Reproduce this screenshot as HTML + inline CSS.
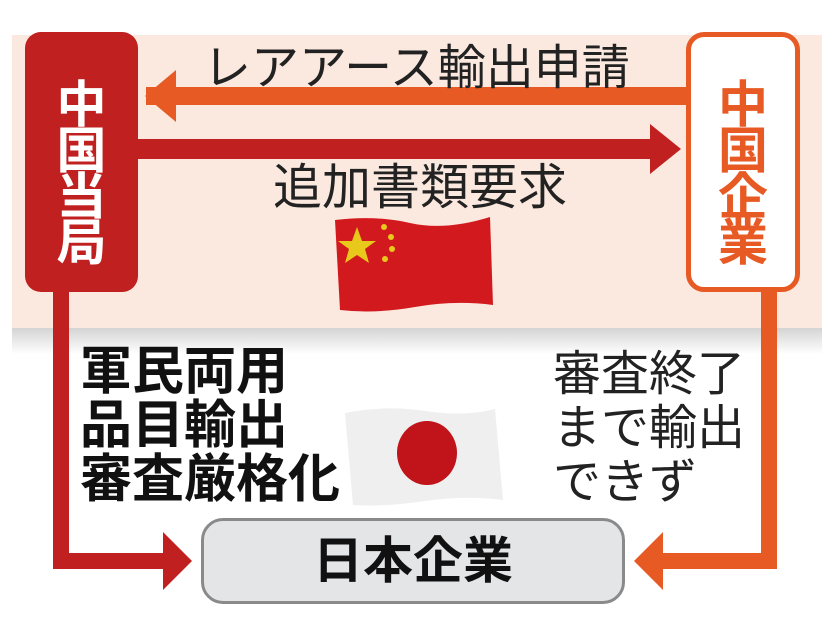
<!DOCTYPE html>
<html><head><meta charset="utf-8"><style>
body{margin:0;width:834px;height:628px;background:#fff;position:relative;overflow:hidden;font-family:"Liberation Sans","Noto Sans CJK JP",sans-serif}
.a{position:absolute}
</style></head><body>
<div class="a" style="left:12px;top:35px;width:810px;height:293px;background:#fbe9df"></div>
<div class="a" style="left:12px;top:328px;width:810px;height:26px;background:linear-gradient(#d4d4d4,#fff)"></div>
<svg class="a" style="left:0;top:0" width="834" height="628">
 <rect x="146" y="87" width="545" height="18" fill="#e85a24"/>
 <polygon points="145,96 176,70 176,122" fill="#e85a24"/>
 <rect x="130" y="139" width="522" height="20" fill="#c0201f"/>
 <polygon points="681,149 650,124 650,174" fill="#c0201f"/>
 <path d="M61,285 V561 H170" stroke="#c0201f" stroke-width="16" fill="none"/>
 <polygon points="192,561 163,532 163,590" fill="#c0201f"/>
 <path d="M769,285 V561 H660" stroke="#e85a24" stroke-width="16" fill="none"/>
 <polygon points="634,561 663,532 663,590" fill="#e85a24"/>
 <g transform="translate(335,215)">
  <path d="M0,5 Q40,0 75,8 T155,2 L158,90 Q120,85 80,92 T5,95 Z" fill="#d2191d"/>
  <polygon points="22,12 27,26 41,26 30,34 34,48 22,40 10,48 14,34 3,26 17,26" fill="#e8c81a"/>
  <circle cx="49" cy="12" r="3" fill="#e8c81a"/><circle cx="56" cy="22" r="3" fill="#e8c81a"/>
  <circle cx="57" cy="34" r="3" fill="#e8c81a"/><circle cx="50" cy="44" r="3" fill="#e8c81a"/>
 </g>
 <g transform="translate(345,405)">
  <path d="M0,8 Q40,0 80,6 T150,4 L158,95 Q120,90 80,96 T8,100 Z" fill="#efefef"/>
  <ellipse cx="82" cy="48" rx="30" ry="32" fill="#c0131a"/>
 </g>
</svg>
<div class="a" style="left:25px;top:32px;width:113px;height:260px;background:#c0201f;border-radius:16px;color:#fff;font-size:50px;font-weight:bold;line-height:46px;text-align:center;padding-top:50px;box-sizing:border-box">中<br>国<br>当<br>局</div>
<div class="a" style="left:686px;top:32px;width:114px;height:260px;background:#fff;border:5px solid #e85a24;border-radius:18px;color:#e85a24;font-size:50px;font-weight:bold;line-height:46px;text-align:center;padding-top:45px;box-sizing:border-box">中<br>国<br>企<br>業</div>
<div class="a" style="left:203px;top:28px;font-size:48px;color:#222;white-space:nowrap">レアアース輸出申請</div>
<div class="a" style="left:273px;top:148px;font-size:49px;color:#222;white-space:nowrap">追加書類要求</div>
<div class="a" style="left:80px;top:345px;font-size:52px;font-weight:bold;line-height:54px;color:#111;white-space:nowrap">軍民両用<br>品目輸出<br>審査厳格化</div>
<div class="a" style="left:553px;top:348px;font-size:48px;line-height:54px;color:#222;white-space:nowrap">審査終了<br>まで輸出<br>できず</div>
<div class="a" style="left:201px;top:518px;width:424px;height:86px;background:#e4e5e7;border:3px solid #8a8a8a;border-radius:22px;box-sizing:border-box;text-align:center;font-size:50px;font-weight:bold;line-height:80px;color:#111">日本企業</div>
</body></html>
